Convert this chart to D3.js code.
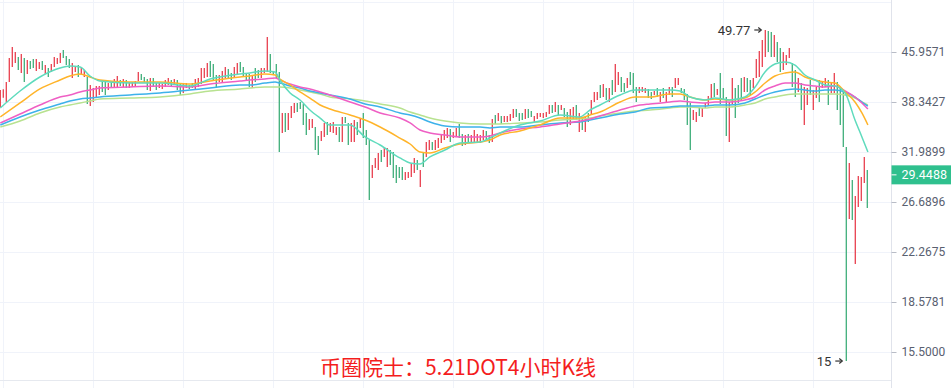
<!DOCTYPE html>
<html>
<head>
<meta charset="utf-8">
<script src="https://cdn.jsdelivr.net/npm/d3@7"></script>
<style>
  body { margin: 0; background: #fff; overflow: hidden; }
  svg { display: block; }
</style>
</head>
<body>
<div id="chart"></div>
<script>
// DOT 4h candles, high / low, colour = up (u) / down (d)
const highs = [
  40.05, 40.15, 41.22, 44.97, 46.80, 45.96, 45.13, 45.63, 44.97, 44.64,
  44.48, 44.80, 44.80, 44.32, 44.48, 43.84, 43.37, 44.00, 45.13, 44.97,
  45.79, 46.29, 45.30, 44.80, 44.16, 43.53, 43.84, 43.37, 43.06, 41.98,
  40.78, 40.34, 40.63, 40.63, 41.22, 41.22, 41.07, 41.22, 41.67, 42.13,
  41.52, 41.67, 41.52, 41.22, 41.22, 41.37, 42.75, 42.44, 41.98, 41.67,
  41.82, 41.82, 41.07, 41.07, 40.92, 41.52, 41.82, 41.52, 41.67, 41.52,
  41.07, 40.92, 41.07, 40.78, 41.07, 41.67, 41.82, 43.37, 43.37, 44.16,
  44.48, 44.00, 42.28, 42.28, 42.90, 43.53, 43.22, 42.59, 43.53, 44.16,
  44.32, 43.53, 42.59, 42.44, 42.28, 43.37, 43.06, 43.37, 43.37, 48.53,
  45.63, 42.90, 44.00, 42.75, 36.85, 36.85, 36.85, 37.79, 38.21, 38.21,
  38.34, 38.07, 36.85, 36.05, 36.05, 35.02, 33.90, 34.52, 35.54, 35.66,
  35.54, 35.66, 35.02, 35.02, 36.32, 36.32, 35.54, 35.54, 35.92, 35.66,
  36.18, 36.85, 34.64, 33.41, 30.52, 31.31, 31.88, 32.22, 32.45, 32.45,
  32.22, 31.99, 30.52, 30.30, 30.30, 29.76, 29.76, 30.75, 31.31, 31.08,
  29.97, 31.99, 33.17, 33.41, 33.17, 33.41, 33.65, 34.02, 34.64, 34.90,
  34.77, 34.39, 34.90, 35.41, 34.14, 34.02, 34.14, 34.02, 34.64, 34.14,
  34.02, 34.64, 34.52, 34.02, 36.05, 36.58, 36.85, 36.45, 36.45, 36.45,
  36.71, 37.38, 37.38, 36.85, 36.85, 37.38, 37.38, 37.11, 36.45, 36.85,
  36.85, 36.85, 36.98, 37.93, 37.93, 38.34, 37.93, 37.93, 37.52, 36.98,
  37.38, 37.66, 37.93, 36.85, 36.32, 36.32, 36.85, 38.62, 39.76, 39.76,
  40.78, 40.92, 40.34, 40.34, 41.52, 44.00, 42.75, 41.98, 41.07, 41.82,
  42.75, 42.59, 40.49, 40.49, 40.49, 40.34, 40.20, 39.76, 39.90, 40.34,
  39.76, 40.34, 39.76, 40.49, 40.49, 41.82, 41.82, 40.34, 40.20, 39.47,
  38.21, 37.25, 36.98, 37.52, 37.52, 38.21, 39.19, 40.92, 41.07, 40.20,
  42.59, 40.34, 39.04, 38.34, 41.82, 40.34, 40.78, 41.82, 41.98, 41.82,
  41.52, 41.82, 44.80, 46.12, 48.00, 49.77, 49.59, 49.41, 48.88, 47.65,
  46.63, 45.96, 45.46, 46.63, 44.16, 43.06, 41.82, 41.07, 40.49, 40.34,
  41.52, 40.05, 40.49, 41.52, 41.22, 41.82, 41.52, 41.07, 42.59, 41.22,
  40.34, 39.76, 32.57, 30.75, 28.90, 27.28, 29.33, 29.23, 31.42, 29.97
];
const lows = [
  37.66, 38.95, 38.34, 41.22, 43.53, 44.16, 43.06, 42.59, 41.22, 42.44,
  43.22, 43.37, 42.90, 43.22, 43.06, 42.44, 41.98, 42.75, 43.53, 44.00,
  44.16, 44.97, 43.84, 43.37, 41.82, 42.75, 41.98, 42.28, 41.98, 38.07,
  37.79, 38.34, 39.04, 39.33, 39.76, 39.33, 40.05, 40.49, 40.49, 40.49,
  40.63, 40.49, 40.34, 40.34, 40.49, 40.49, 41.37, 41.52, 41.22, 40.05,
  39.90, 40.49, 40.05, 40.34, 40.20, 40.49, 40.78, 40.63, 40.78, 40.05,
  39.33, 39.62, 40.34, 40.20, 40.34, 40.20, 40.49, 40.92, 41.82, 41.98,
  41.98, 41.52, 40.34, 41.22, 41.07, 41.82, 41.67, 41.52, 41.82, 42.28,
  42.75, 41.98, 41.52, 40.49, 40.34, 41.22, 41.82, 41.82, 42.59, 42.75,
  42.59, 42.28, 41.82, 31.99, 34.27, 34.39, 34.64, 36.18, 36.85, 36.98,
  37.38, 35.28, 34.02, 34.64, 34.90, 32.22, 31.65, 33.29, 33.78, 34.02,
  34.39, 34.27, 34.02, 33.17, 33.17, 35.54, 32.81, 33.17, 33.17, 34.02,
  34.90, 33.65, 32.81, 26.88, 29.12, 30.19, 29.97, 30.86, 31.42, 30.30,
  30.52, 29.12, 28.59, 29.12, 28.90, 28.90, 29.12, 29.23, 29.65, 29.97,
  28.18, 30.30, 31.42, 32.22, 32.22, 32.22, 32.45, 33.05, 33.41, 33.65,
  33.17, 33.65, 33.78, 33.65, 32.69, 32.81, 33.05, 33.05, 33.17, 33.05,
  33.05, 33.41, 33.41, 33.05, 33.17, 35.41, 35.79, 35.41, 35.66, 35.66,
  35.79, 36.18, 36.32, 35.79, 35.92, 36.05, 36.18, 36.32, 35.54, 36.05,
  36.32, 36.18, 36.32, 36.71, 36.85, 36.98, 36.58, 37.25, 36.32, 35.02,
  35.28, 36.05, 35.92, 34.39, 34.64, 34.39, 35.66, 36.58, 38.34, 38.62,
  38.90, 39.04, 38.62, 38.34, 39.33, 39.76, 40.78, 39.76, 39.76, 40.34,
  40.78, 39.62, 38.34, 39.62, 39.76, 39.62, 38.90, 38.76, 39.33, 39.04,
  38.34, 38.90, 38.34, 39.33, 39.04, 40.34, 40.78, 39.62, 38.62, 35.28,
  32.22, 35.92, 35.66, 36.45, 36.32, 37.52, 37.79, 38.62, 39.04, 39.33,
  38.07, 38.62, 33.90, 33.17, 38.07, 36.18, 38.21, 38.62, 39.76, 39.76,
  39.33, 40.34, 41.82, 41.98, 43.53, 45.13, 45.96, 45.13, 45.13, 44.32,
  42.75, 43.06, 43.84, 44.97, 40.49, 39.04, 39.76, 37.25, 35.28, 37.93,
  39.33, 37.25, 38.90, 38.34, 40.34, 40.49, 37.93, 39.62, 39.62, 37.25,
  35.28, 32.57, 15.00, 25.09, 25.00, 21.32, 26.21, 26.78, 28.59, 26.12
];
const dirs = (
  "ddddddudud" + "uuddududdd" + "duuudduddu" + "dddduududd" + "ududddduuu" +
  "duuddddudu" + "udduuddddd" + "uuuddduudd" + "uuuuduuddd" + "uuuududddu" +
  "uuudduuddu" + "ddduduuddu" + "duuudddudd" + "uuuuuddddu" + "dudduddddd" +
  "udduududdd" + "dduudududd" + "dduuuduudd" + "ddddududuu" + "ddudududdd" +
  "udududduud" + "uuuddduudu" + "duddudduuu" + "udduddddud" + "uuudduuudu" +
  "uddddduudu" + "uddduududd" + "uddudduddu" + "uuududdddu"
).split("");

const lastPrice = 29.4488;

// moving averages, sampled at candle positions
const maIdx = [0, 6.6, 13.2, 19.9, 23.2, 26.6, 29.9, 33.2, 43.2, 53.2, 63.2, 69.9, 79.9, 83.2, 88.2, 91.6,
  93.2, 96.6, 99.9, 103.2, 106.6, 109.9, 116.6, 121.6, 126.6, 133.2, 136.6, 139.9, 143.2, 148.2, 153.2,
  159.9, 163.2, 166.6, 173.2, 179.9, 186.6, 193.2, 196.6, 199.9, 206.6, 211.6, 216.6, 223.2, 226.6, 229.9,
  234.9, 238.2, 243.2, 248.2, 251.6, 254.9, 258.2, 261.6, 264.9, 268.2, 271.6, 274.9, 278.2, 281.6, 284.9,
  287.2, 289.2];
const maTeal = [37.52, 39.90, 41.98, 43.37, 43.68, 43.53, 42.13, 41.37, 41.07, 41.07, 40.63, 41.67, 42.44, 42.59, 42.90, 42.75,
  41.52, 39.62, 38.62, 37.25, 36.18, 35.28, 35.28, 33.78, 32.81, 31.31, 30.75, 30.63, 31.42, 32.22, 33.05,
  33.17, 33.65, 34.27, 35.28, 35.79, 36.58, 36.32, 37.25, 37.93, 39.33, 40.05, 40.05, 40.05, 39.90, 39.04,
  38.62, 38.90, 38.62, 39.04, 40.49, 42.75, 44.00, 44.32, 43.84, 42.28, 41.52, 40.78, 40.63, 39.62, 35.92,
  33.78, 31.99];
const maOrange = [36.32, 38.21, 40.20, 41.52, 42.13, 42.44, 41.98, 41.52, 41.22, 41.22, 40.92, 41.37, 41.98, 42.13, 42.44, 42.28,
  41.67, 40.78, 39.76, 38.90, 37.93, 37.38, 36.58, 35.92, 35.02, 33.65, 32.93, 31.99, 31.88, 32.45, 32.93,
  33.17, 33.41, 34.02, 34.52, 35.28, 36.18, 36.18, 36.58, 36.98, 38.34, 39.04, 39.04, 39.47, 39.47, 39.04,
  38.62, 38.76, 38.62, 38.90, 39.76, 41.07, 42.13, 42.59, 42.75, 41.98, 41.52, 41.22, 41.07, 39.76, 38.34,
  36.85, 35.28];
const maPink = [35.54, 36.71, 37.93, 39.04, 39.33, 39.76, 40.05, 40.34, 40.49, 40.63, 40.49, 40.92, 41.37, 41.52, 41.67, 41.82,
  41.52, 40.92, 40.49, 40.20, 39.76, 39.33, 38.34, 37.66, 36.85, 36.18, 35.54, 34.64, 34.27, 34.02, 33.78,
  33.78, 33.90, 34.27, 34.77, 35.02, 35.41, 35.79, 36.05, 36.45, 37.25, 37.79, 38.07, 38.34, 38.48, 38.34,
  38.21, 38.34, 38.34, 38.62, 39.04, 40.05, 40.63, 41.07, 41.07, 40.78, 40.63, 40.49, 40.63, 39.90, 39.04,
  38.21, 37.38];
const maBlue = [35.28, 36.32, 37.25, 38.07, 38.48, 38.76, 38.90, 39.04, 39.33, 39.62, 40.05, 40.34, 40.78, 40.78, 41.07, 41.22,
  41.07, 40.63, 40.34, 39.90, 39.62, 39.33, 38.76, 38.07, 37.66, 36.85, 36.58, 36.18, 35.66, 35.15, 35.02,
  35.02, 34.90, 35.02, 35.02, 35.28, 35.54, 35.66, 35.92, 36.18, 36.71, 36.98, 37.52, 37.66, 37.79, 37.79,
  37.79, 37.93, 37.93, 38.21, 38.76, 39.33, 39.76, 40.05, 40.20, 40.05, 39.90, 40.05, 40.05, 39.76, 39.04,
  38.34, 37.79];
const maLime = [35.02, 35.79, 36.85, 37.66, 37.93, 38.21, 38.48, 38.76, 38.90, 39.04, 39.47, 39.90, 40.20, 40.34, 40.49, 40.49,
  40.49, 40.34, 40.05, 39.76, 39.47, 39.04, 38.76, 38.48, 38.07, 37.52, 36.98, 36.58, 36.18, 35.79, 35.54,
  35.41, 35.41, 35.41, 35.54, 35.66, 35.92, 36.05, 36.18, 36.45, 36.85, 37.11, 37.25, 37.52, 37.66, 37.66,
  37.52, 37.66, 37.66, 37.93, 38.21, 38.76, 39.04, 39.33, 39.47, 39.47, 39.47, 39.47, 39.47, 39.33, 38.90,
  38.34, 37.93];

// right price axis
const priceTicks = [15.5, 18.5781, 22.2675, 26.6896, 31.9899, 38.3427, 45.9571];
const gridPrices = priceTicks.concat([55.0838]);

const title = "币圈院士：5.21DOT4小时K线";

const width = 951, height = 388;
const paneRight = 891.5, paneBottom = 380.5;
const upColor = "#3fae7a", downColor = "#e8404f";

const svg = d3.select("#chart").append("svg")
  .attr("width", width)
  .attr("height", height)
  .style("font-family", "Roboto, 'Noto Sans', sans-serif");

const x = d3.scaleLinear().domain([0, highs.length - 1]).range([0.3, 867.3]);
const y = d3.scaleLog().domain([15.5, 45.9571]).range([352, 52]);

// grid
svg.append("g").selectAll("line")
  .data(gridPrices)
  .join("line")
  .attr("x1", 0).attr("x2", paneRight)
  .attr("y1", d => Math.round(y(d)) + 0.5).attr("y2", d => Math.round(y(d)) + 0.5)
  .attr("stroke", "#f0f3fa");

svg.append("g").selectAll("line")
  .data(d3.range(0.8, highs.length, 30))
  .join("line")
  .attr("x1", d => Math.round(x(d)) + 0.5).attr("x2", d => Math.round(x(d)) + 0.5)
  .attr("y1", 0).attr("y2", height)
  .attr("stroke", "#f0f3fa");

// pane borders
svg.append("line")
  .attr("x1", 0).attr("x2", paneRight)
  .attr("y1", paneBottom).attr("y2", paneBottom)
  .attr("stroke", "#e6e9ef");
svg.append("line")
  .attr("x1", paneRight).attr("x2", paneRight)
  .attr("y1", 0).attr("y2", height)
  .attr("stroke", "#e0e3eb");

// candles (bodies collapse to hairlines at this zoom)
svg.append("g").selectAll("line")
  .data(highs)
  .join("line")
  .attr("x1", (d, i) => x(i)).attr("x2", (d, i) => x(i))
  .attr("y1", d => y(d))
  .attr("y2", (d, i) => y(lows[i]))
  .attr("stroke", (d, i) => dirs[i] === "u" ? upColor : downColor)
  .attr("stroke-width", 1.3);

// moving averages
const maSeries = [
  { vals: maLime, color: "#b8e290" },
  { vals: maBlue, color: "#3db2ea" },
  { vals: maPink, color: "#ef5fc4" },
  { vals: maOrange, color: "#ffb42a" },
  { vals: maTeal, color: "#5fdbbd" }
];
const line = d3.line()
  .x(d => x(d[0]))
  .y(d => y(d[1]))
  .curve(d3.curveMonotoneX);

svg.append("g").selectAll("path")
  .data(maSeries)
  .join("path")
  .attr("d", s => line(maIdx.map((t, k) => [t, s.vals[k]])))
  .attr("fill", "none")
  .attr("stroke", s => s.color)
  .attr("stroke-width", 1.5);

// axis
const axis = svg.append("g")
  .attr("transform", `translate(${paneRight},0)`)
  .call(d3.axisRight(y).tickValues(priceTicks).tickSize(5).tickPadding(5)
    .tickFormat(d => d.toFixed(4)));
axis.select(".domain").remove();
axis.selectAll(".tick line").attr("stroke", "#b8bcc6");
axis.selectAll(".tick text")
  .attr("fill", "#596070")
  .style("font-size", "12px")
  .style("font-family", "Roboto, sans-serif");

// last price tag
const py = y(lastPrice);
svg.append("rect")
  .attr("x", paneRight).attr("y", py - 9.5)
  .attr("width", width - paneRight).attr("height", 19)
  .attr("fill", "#2fc08e");
svg.append("line")
  .attr("x1", paneRight).attr("x2", paneRight + 5)
  .attr("y1", py).attr("y2", py)
  .attr("stroke", "#fff");
svg.append("text")
  .attr("x", paneRight + 10).attr("y", py)
  .attr("dy", "0.35em")
  .attr("fill", "#fff")
  .style("font-size", "12.5px")
  .style("font-family", "Roboto, sans-serif")
  .text(lastPrice.toFixed(4));

// high / low markers
function marker(i, v) {
  const cx = x(i), cy = y(v);
  const g = svg.append("g").attr("fill", "#333").attr("stroke", "#333");
  g.append("line").attr("x1", cx - 11).attr("x2", cx - 4.5).attr("y1", cy).attr("y2", cy)
    .attr("stroke-width", 1.2);
  g.append("path").attr("d", `M${cx - 7},${cy - 2.5}L${cx - 4},${cy}L${cx - 7},${cy + 2.5}`)
    .attr("fill", "none").attr("stroke-width", 1.2);
  g.append("text").attr("x", cx - 15).attr("y", cy).attr("dy", "0.35em")
    .attr("text-anchor", "end").attr("stroke", "none")
    .style("font-size", "13px")
    .text(v);
}
const hiIdx = d3.maxIndex(highs), loIdx = d3.minIndex(lows);
marker(hiIdx, highs[hiIdx]);
marker(loIdx, lows[loIdx]);

// caption
svg.append("text")
  .attr("x", 458).attr("y", 375)
  .attr("text-anchor", "middle")
  .attr("fill", "#f41d1d")
  .style("font-size", "21px")
  .style("font-family", "'Noto Sans CJK SC', sans-serif")
  .text(title);
</script>
</body>
</html>
